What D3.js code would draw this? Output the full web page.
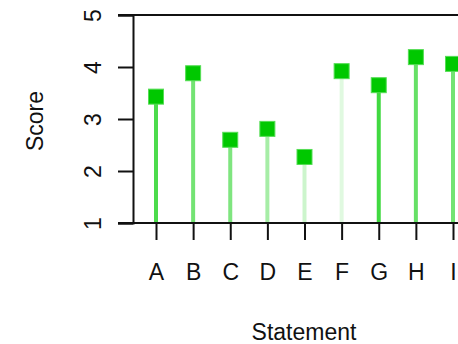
<!DOCTYPE html>
<html><head><meta charset="utf-8">
<script src="https://cdn.jsdelivr.net/npm/d3@7"></script>
<style>html,body{margin:0;padding:0;background:#fff;}</style>
</head><body>
<svg id="c" width="458" height="344"></svg>
<script>
const categories = ["A","B","C","D","E","F","G","H","I"];
const scores = [3.43, 3.88, 2.60, 2.81, 2.27, 3.92, 3.65, 4.19, 4.06];
const stemOpacity = [0.7, 0.55, 0.5, 0.35, 0.2, 0.12, 0.75, 0.6, 0.55];
const yTicks = [1, 2, 3, 4, 5];

const svg = d3.select("#c");
const font = "'Liberation Sans', Arial, sans-serif";
const x = d3.scalePoint().domain(categories).range([156, 453]);
const y = d3.scaleLinear().domain([1, 5]).range([223, 15]);

// frame lines
svg.append("line").attr("x1",118).attr("x2",458).attr("y1",y(5)).attr("y2",y(5)).attr("stroke","#111").attr("stroke-width",2);
svg.append("line").attr("x1",118).attr("x2",458).attr("y1",y(1)).attr("y2",y(1)).attr("stroke","#111").attr("stroke-width",2);

// y axis
const yAxis = d3.axisLeft(y).tickValues(yTicks).tickSize(15).tickFormat(d3.format("d"));
const gy = svg.append("g").attr("transform","translate(133,0)").call(yAxis);
gy.select(".domain").attr("stroke","#111").attr("stroke-width",2);
gy.selectAll(".tick line").attr("stroke","#111").attr("stroke-width",2);
gy.selectAll(".tick text").attr("font-family",font).attr("font-size",23).attr("fill","#111")
  .attr("text-anchor","middle").attr("dy",0).attr("x",0)
  .attr("transform","translate(-32,0) rotate(-90)");

// x axis
const xAxis = d3.axisBottom(x).tickSize(17).tickPadding(22);
const gx = svg.append("g").attr("transform","translate(0,223)").call(xAxis);
gx.select(".domain").remove();
gx.selectAll(".tick line").attr("stroke","#111").attr("stroke-width",2);
gx.selectAll(".tick text").attr("font-family",font).attr("font-size",23).attr("fill","#111").attr("dy",0).attr("y",57);

// stems
svg.append("g").selectAll("line").data(categories).join("line")
  .attr("x1",d=>x(d)).attr("x2",d=>x(d))
  .attr("y1",y(1)-1).attr("y2",(d,i)=>y(scores[i]))
  .attr("stroke","#00cc00").attr("stroke-opacity",(d,i)=>stemOpacity[i]).attr("stroke-width",4);

// squares
const s = 15;
svg.append("g").selectAll("rect").data(categories).join("rect")
  .attr("x",d=>x(d)-s/2).attr("y",(d,i)=>y(scores[i])-s/2)
  .attr("width",s).attr("height",s)
  .attr("fill","#00c800").attr("stroke","#55dd55").attr("stroke-width",1);

// axis titles
svg.append("text").attr("x",304).attr("y",340).attr("text-anchor","middle")
  .attr("font-family",font).attr("font-size",23).attr("fill","#111").text("Statement");
svg.append("text").attr("transform","translate(43,121) rotate(-90)").attr("text-anchor","middle")
  .attr("font-family",font).attr("font-size",23).attr("fill","#111").text("Score");
</script>
</body></html>
